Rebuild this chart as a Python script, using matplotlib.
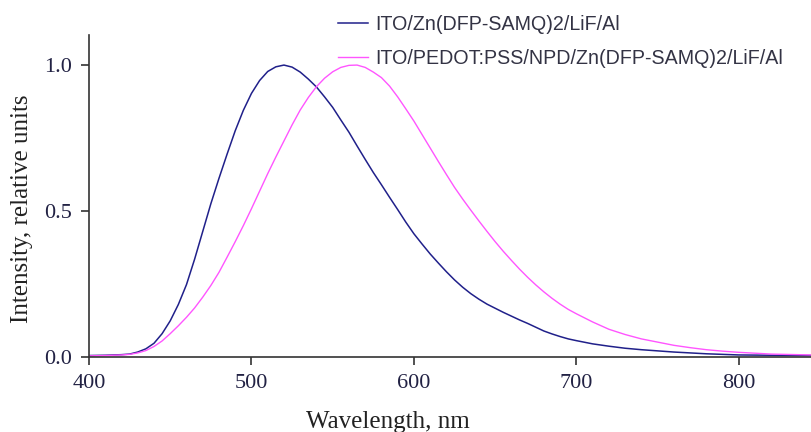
import matplotlib
matplotlib.use("Agg")
import matplotlib.pyplot as plt

# spectra (wavelength nm, normalised intensity)
wl_a = [400, 410, 420, 425, 430, 435, 440, 445, 450, 455, 460, 465, 470, 475,
        480, 485, 490, 495, 500, 505, 510, 515, 520, 525, 530, 535, 540, 545,
        550, 555, 560, 565, 570, 575, 580, 585, 590, 595, 600, 605, 610, 615,
        620, 625, 630, 635, 640, 645, 650, 655, 660, 665, 670, 675, 680, 685,
        690, 695, 700, 710, 720, 730, 740, 750, 760, 770, 780, 790, 800, 820,
        845]
int_a = [0.005, 0.006, 0.008, 0.010, 0.017, 0.028, 0.047, 0.080, 0.124, 0.18,
         0.248, 0.335, 0.43, 0.525, 0.612, 0.695, 0.775, 0.845, 0.903, 0.947,
         0.978, 0.994, 1.0, 0.993, 0.976, 0.952, 0.925, 0.891, 0.855, 0.812,
         0.77, 0.723, 0.677, 0.632, 0.59, 0.547, 0.505, 0.462, 0.422, 0.387,
         0.353, 0.322, 0.292, 0.264, 0.239, 0.217, 0.198, 0.181, 0.167, 0.153,
         0.14, 0.127, 0.115, 0.102, 0.089, 0.079, 0.070, 0.062, 0.056, 0.045,
         0.037, 0.030, 0.025, 0.021, 0.017, 0.014, 0.011, 0.009, 0.007, 0.006,
         0.005]

wl_b = [400, 410, 420, 425, 430, 435, 440, 445, 450, 455, 460, 465, 470, 475,
        480, 485, 490, 495, 500, 505, 510, 515, 520, 525, 530, 535, 540, 545,
        550, 555, 560, 565, 570, 575, 580, 585, 590, 595, 600, 605, 610, 615,
        620, 625, 630, 635, 640, 645, 650, 655, 660, 665, 670, 675, 680, 685,
        690, 695, 700, 710, 720, 730, 740, 750, 760, 770, 780, 790, 800, 820,
        845]
int_b = [0.004, 0.005, 0.007, 0.009, 0.014, 0.022, 0.036, 0.055, 0.080, 0.107,
         0.136, 0.168, 0.205, 0.245, 0.29, 0.342, 0.395, 0.45, 0.508, 0.568,
         0.628, 0.685, 0.74, 0.795, 0.846, 0.889, 0.926, 0.955, 0.977, 0.992,
         0.999, 1.0, 0.992, 0.976, 0.957, 0.928, 0.891, 0.85, 0.808, 0.762,
         0.716, 0.67, 0.625, 0.581, 0.541, 0.503, 0.466, 0.43, 0.395, 0.362,
         0.331, 0.301, 0.273, 0.247, 0.223, 0.201, 0.181, 0.163, 0.148, 0.12,
         0.095, 0.077, 0.062, 0.051, 0.04, 0.032, 0.025, 0.02, 0.016, 0.01,
         0.007]

label_a = "ITO/Zn(DFP-SAMQ)2/LiF/Al"
label_b = "ITO/PEDOT:PSS/NPD/Zn(DFP-SAMQ)2/LiF/Al"
x_ticks = [400, 500, 600, 700, 800]
y_ticks = [0.0, 0.5, 1.0]
y_ticklabels = ["0.0", "0.5", "1.0"]

W, H = 811, 432
fig = plt.figure(figsize=(W / 100, H / 100), dpi=100)
ax = fig.add_axes([89 / W, 1 - 357 / H, 1 - 89 / W, (357 - 35) / H])

ax.plot(wl_a, int_a, color="#20208a", lw=1.1, label=label_a)
ax.plot(wl_b, int_b, color="#ff55ff", lw=1.0, label=label_b)

ax.set_xlim(400, 844.4)
ax.set_ylim(0, 1.103)

for s in ["top", "right"]:
    ax.spines[s].set_visible(False)
for s in ["left", "bottom"]:
    ax.spines[s].set_color("#333333")
    ax.spines[s].set_linewidth(1.2)

ax.set_xticks(x_ticks)
ax.set_xticklabels([str(t) for t in x_ticks])
ax.set_yticks(y_ticks)
ax.set_yticklabels(y_ticklabels)
ax.tick_params(direction="out", length=5.5, width=1.2, color="#333333",
               labelsize=16, labelcolor="#222244", pad=7)
for lab in ax.get_xticklabels() + ax.get_yticklabels():
    lab.set_fontfamily("Liberation Serif")

fig.text(22 / W, 1 - 209 / H, "Intensity, relative units", rotation=90,
         ha="center", va="center", fontsize=18, family="Liberation Serif",
         color="#222222")
fig.text(388 / W, 1 - 428 / H, "Wavelength, nm", ha="center", va="baseline",
         fontsize=18, family="Liberation Serif", color="#222222")

leg = ax.legend(loc="upper left", bbox_to_anchor=(338 / W, 1 - 15 / H),
                bbox_transform=fig.transFigure, frameon=False,
                prop={"family": "Liberation Sans", "size": 14.1},
                handlelength=1.55, handletextpad=0.33, labelspacing=0.78,
                borderpad=0, borderaxespad=0)
for t in leg.get_texts():
    t.set_color("#333344")

fig.savefig("out.png", dpi=100)
